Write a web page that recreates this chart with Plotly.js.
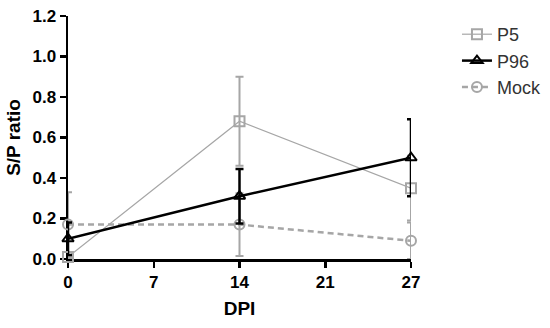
<!DOCTYPE html>
<html>
<head>
<meta charset="utf-8">
<script src="https://cdn.plot.ly/plotly-3.0.1.min.js"></script>
<style>html,body{margin:0;padding:0;background:#fff;}#chart{width:550px;height:328px;}</style>
</head>
<body>
<div id="chart"></div>
<script>
var tickLabels = ['0', '7', '14', '21', '27'];
var dpi = ['0', '14', '27'];
var p5 = [0.01, 0.68, 0.35];
var p5Err = [0.01, 0.22, 0.16];
var p96 = [0.10, 0.31, 0.50];
var p96Err = [0.08, 0.135, 0.19];
var mock = [0.17, 0.17, 0.09];
var mockErr = [0.16, 0.155, 0.09];

var gray = '#a6a6a6';
var traces = [
  {x: dpi, y: mock, name: 'Mock', type: 'scatter', mode: 'lines+markers',
   line: {color: gray, width: 2.5, dash: '6px,4px'},
   marker: {symbol: 'circle-open', size: 10, color: gray, line: {width: 2, color: gray}},
   error_y: {type: 'data', array: mockErr, visible: true, color: gray, thickness: 2, width: 4},
   cliponaxis: false, legendrank: 3},
  {x: dpi, y: p5, name: 'P5', type: 'scatter', mode: 'lines+markers',
   line: {color: gray, width: 1.2},
   marker: {symbol: 'square-open', size: 10, color: gray, line: {width: 2, color: gray}},
   error_y: {type: 'data', array: p5Err, visible: true, color: gray, thickness: 2, width: 4},
   cliponaxis: false, legendrank: 1},
  {x: dpi, y: p96, name: 'P96', type: 'scatter', mode: 'lines+markers',
   line: {color: '#000', width: 2.5},
   marker: {symbol: 'triangle-up-open', size: 10, color: '#000', line: {width: 2, color: '#000'}},
   error_y: {type: 'data', array: p96Err, visible: true, color: '#000', thickness: 2.5, width: 4},
   cliponaxis: false, legendrank: 2}
];

var layout = {
  width: 550, height: 328,
  margin: {l: 68, r: 139, t: 16, b: 69, autoexpand: false},
  paper_bgcolor: '#fff', plot_bgcolor: '#fff',
  font: {family: 'Liberation Sans, Arial, sans-serif', color: '#000'},
  showlegend: true,
  legend: {x: 1.134, y: 1.0, xanchor: 'left', yanchor: 'top', font: {size: 18, color: '#333'},
           tracegroupgap: 0, itemwidth: 30, bgcolor: 'rgba(0,0,0,0)'},
  xaxis: {
    type: 'category', categoryorder: 'array', categoryarray: tickLabels,
    range: [0, 4], showgrid: false, zeroline: false, layer: 'below traces',
    showline: true, linecolor: '#000', linewidth: 2.5,
    ticks: 'outside', ticklen: 6, tickwidth: 2.5, tickcolor: '#000',
    tickfont: {size: 17, family: 'Liberation Sans, Arial, sans-serif', weight: 'bold', color: '#000'},
    title: {text: '<b>DPI</b>', font: {size: 19, color: '#000'}, standoff: 11}
  },
  yaxis: {
    range: [0, 1.2], dtick: 0.2, tickformat: '.1f', showgrid: false, zeroline: false, layer: 'below traces',
    showline: true, linecolor: '#000', linewidth: 2.5,
    ticks: 'outside', ticklen: 6, tickwidth: 2.5, tickcolor: '#000',
    tickfont: {size: 17, family: 'Liberation Sans, Arial, sans-serif', weight: 'bold', color: '#000'},
    title: {text: '<b>S/P ratio</b>', font: {size: 19, color: '#000'}, standoff: 7}
  }
};

Plotly.newPlot('chart', traces, layout, {displayModeBar: false, staticPlot: true}).then(function () {
  // let error bars at the axis edges show fully, as in the reference
  var gd = document.getElementById('chart');
  gd.querySelectorAll('.errorbars').forEach(function (g) {
    var p = g.closest('[clip-path]');
    if (p) p.removeAttribute('clip-path');
  });
});
</script>
</body>
</html>
